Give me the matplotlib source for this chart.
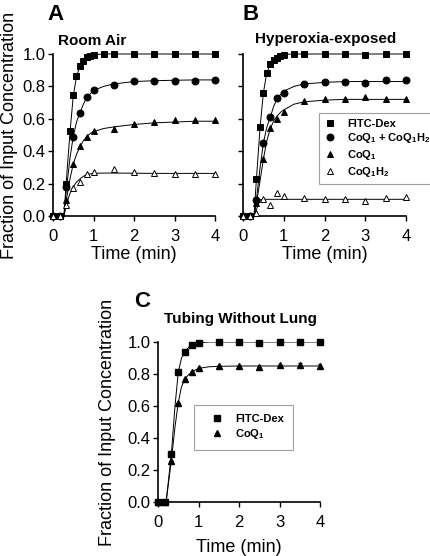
import matplotlib
matplotlib.use("Agg")
import matplotlib.pyplot as plt
import numpy as np

plt.rcParams['font.family'] = ['Liberation Sans', 'DejaVu Sans']
plt.rcParams['mathtext.fontset'] = 'custom'
plt.rcParams['mathtext.rm'] = 'Liberation Sans:bold'
plt.rcParams['mathtext.it'] = 'Liberation Sans:bold'
plt.rcParams['mathtext.bf'] = 'Liberation Sans:bold'

# --- data (time in min, fraction of input) ---
# panel A, room air
tA_dex = [0, 0.17, 0.33, 0.42, 0.5, 0.58, 0.67, 0.75, 0.83, 0.92, 1.0, 1.25, 1.5, 2, 2.5, 3, 3.5, 4]
A_dex = [0, 0, 0.20, 0.525, 0.75, 0.866, 0.924, 0.959, 0.979, 0.99, 0.996, 1.0, 1.0, 1.0, 1.0, 1.0, 1.0, 1.0]
tA = [0, 0.17, 0.33, 0.5, 0.67, 0.83, 1.0, 1.5, 2, 2.5, 3, 3.5, 4]
A_total = [0, 0, 0.18, 0.49, 0.635, 0.735, 0.775, 0.81, 0.835, 0.835, 0.835, 0.835, 0.84]
A_coq1 = [0, 0, 0.10, 0.32, 0.43, 0.49, 0.525, 0.54, 0.57, 0.58, 0.59, 0.59, 0.59]
A_coq1h2 = [0, 0, 0.07, 0.175, 0.21, 0.26, 0.27, 0.29, 0.27, 0.265, 0.26, 0.26, 0.26]

# panel B, hyperoxia-exposed
tB_dex = [0, 0.17, 0.33, 0.42, 0.5, 0.58, 0.67, 0.75, 0.83, 0.92, 1.0, 1.25, 1.5, 2, 2.5, 3, 3.5, 4]
B_dex = [0, 0, 0.23, 0.55, 0.76, 0.88, 0.94, 0.96, 0.975, 0.99, 0.995, 1.0, 1.0, 1.0, 1.0, 0.996, 1.0, 1.0]
tB = [0, 0.17, 0.33, 0.5, 0.67, 0.83, 1.0, 1.5, 2, 2.5, 3, 3.5, 4]
B_total = [0, 0, 0.10, 0.45, 0.61, 0.73, 0.76, 0.815, 0.825, 0.83, 0.82, 0.84, 0.84]
B_coq1 = [0, 0, 0.08, 0.35, 0.545, 0.60, 0.64, 0.71, 0.72, 0.72, 0.735, 0.72, 0.725]
B_coq1h2 = [0, 0, 0.02, 0.105, 0.07, 0.14, 0.125, 0.11, 0.105, 0.105, 0.09, 0.11, 0.12]

# panel C, tubing without lung
tC = [0, 0.17, 0.33, 0.5, 0.67, 0.83, 1.0, 1.5, 2, 2.5, 3, 3.5, 4]
C_dex = [0, 0, 0.30, 0.815, 0.94, 0.98, 0.995, 1.0, 1.0, 0.995, 1.0, 1.0, 1.0]
C_coq1 = [0, 0, 0.256, 0.62, 0.77, 0.81, 0.835, 0.848, 0.852, 0.846, 0.856, 0.856, 0.852]
C_coq1_err = [0, 0, 0, 0, 0, 0, 0, 0, 0, 0, 0, 0.012, 0.012]

# fitted curves
t_fit = [0, 0.27, 0.33, 0.42, 0.5, 0.58, 0.67, 0.75, 0.83, 0.92, 1.0, 1.25, 1.5, 2, 2.5, 3, 3.5, 4]
A_dex_fit = [0, 0, 0.22, 0.52, 0.74, 0.86, 0.93, 0.965, 0.98, 0.99, 0.995, 1.0, 1.0, 1.0, 1.0, 1.0, 1.0, 1.0]
A_total_fit = [0, 0, 0.16, 0.36, 0.49, 0.58, 0.64, 0.69, 0.73, 0.755, 0.775, 0.80, 0.815, 0.83, 0.835, 0.838, 0.84, 0.84]
A_coq1_fit = [0, 0, 0.10, 0.23, 0.32, 0.38, 0.43, 0.465, 0.49, 0.51, 0.52, 0.54, 0.55, 0.565, 0.575, 0.58, 0.585, 0.585]
A_coq1h2_fit = [0, 0, 0.07, 0.14, 0.18, 0.21, 0.23, 0.245, 0.255, 0.26, 0.263, 0.265, 0.265, 0.264, 0.263, 0.263, 0.263, 0.263]
B_dex_fit = [0, 0, 0.23, 0.55, 0.76, 0.88, 0.94, 0.97, 0.985, 0.993, 0.997, 1.0, 1.0, 1.0, 1.0, 1.0, 1.0, 1.0]
B_total_fit = [0, 0, 0.10, 0.30, 0.45, 0.545, 0.61, 0.675, 0.72, 0.75, 0.77, 0.80, 0.815, 0.825, 0.83, 0.83, 0.83, 0.83]
B_coq1_fit = [0, 0, 0.08, 0.22, 0.35, 0.46, 0.54, 0.585, 0.615, 0.64, 0.655, 0.69, 0.705, 0.715, 0.72, 0.72, 0.72, 0.72]
B_coq1h2_fit = [0, 0, 0.04, 0.10, 0.103, 0.103, 0.103, 0.103, 0.103, 0.103, 0.103, 0.103, 0.103, 0.103, 0.103, 0.103, 0.103, 0.103]
tC_fit = [0, 0.2, 0.33, 0.42, 0.5, 0.58, 0.67, 0.75, 0.83, 0.92, 1.0, 1.25, 1.5, 2, 2.5, 3, 3.5, 4]
C_dex_fit = [0, 0, 0.30, 0.60, 0.81, 0.90, 0.94, 0.965, 0.98, 0.99, 0.995, 1.0, 1.0, 1.0, 1.0, 1.0, 1.0, 1.0]
C_coq1_fit = [0, 0, 0.26, 0.47, 0.62, 0.72, 0.77, 0.795, 0.81, 0.825, 0.835, 0.845, 0.848, 0.85, 0.85, 0.85, 0.85, 0.85]

labels = ['FITC-Dex', 'CoQ$_1$ + CoQ$_1$H$_2$', 'CoQ$_1$', 'CoQ$_1$H$_2$']

W, H = 430, 556
fig = plt.figure(figsize=(W / 100, H / 100), dpi=100)


def px(x, y):
    return x / W, 1 - y / H


def setup(ax, xlabelpad):
    ax.set_xlim(0, 4)
    ax.set_ylim(0, 1.0)
    ax.spines['top'].set_visible(False)
    ax.spines['right'].set_visible(False)
    ax.spines['left'].set_linewidth(1.2)
    ax.spines['bottom'].set_linewidth(1.2)
    ax.set_xticks([0, 1, 2, 3, 4])
    ax.set_yticks([0, 0.2, 0.4, 0.6, 0.8, 1.0])
    ax.set_yticklabels(['0.0', '0.2', '0.4', '0.6', '0.8', '1.0'])
    ax.tick_params(direction='out', length=3.5, width=1, labelsize=12, pad=2)
    ax.tick_params(axis='x', pad=6)
    ax.set_xlabel('Time (min)', fontsize=13, labelpad=xlabelpad)


def series(ax, t, y, tf, yf, marker, ms, mfc, label):
    ax.plot(tf, yf, '-', color='black', lw=0.7, clip_on=False)
    ax.plot(t, y, linestyle='none', marker=marker, ms=ms, mfc=mfc, mec='black',
            mew=0.7, clip_on=False, zorder=3, label=label)


# panel A
axA = fig.add_axes([53 / W, 1 - 216 / H, 162 / W, 162 / H])
setup(axA, 1)
series(axA, tA_dex, A_dex, t_fit, A_dex_fit, 's', 4.3, 'black', labels[0])
series(axA, tA, A_total, t_fit, A_total_fit, 'o', 5, 'black', labels[1])
series(axA, tA, A_coq1, t_fit, A_coq1_fit, '^', 4.5, 'black', labels[2])
series(axA, tA, A_coq1h2, t_fit, A_coq1h2_fit, '^', 4.5, 'white', labels[3])

# panel B
axB = fig.add_axes([243 / W, 1 - 216 / H, 163 / W, 162 / H])
setup(axB, 1)
axB.set_yticklabels([])
series(axB, tB_dex, B_dex, t_fit, B_dex_fit, 's', 4.3, 'black', labels[0])
series(axB, tB, B_total, t_fit, B_total_fit, 'o', 5, 'black', labels[1])
series(axB, tB, B_coq1, t_fit, B_coq1_fit, '^', 4.5, 'black', labels[2])
series(axB, tB, B_coq1h2, t_fit, B_coq1h2_fit, '^', 4.5, 'white', labels[3])
legB = axB.legend(loc='upper left', bbox_to_anchor=(px(319, 113)), bbox_transform=fig.transFigure,
                  frameon=True, fancybox=False, edgecolor='#888888', borderpad=0.5,
                  handlelength=1.0, handletextpad=1.0, labelspacing=0.25,
                  prop={'weight': 'bold', 'size': 8}, borderaxespad=0)
legB.get_frame().set_linewidth(0.8)

# panel C
axC = fig.add_axes([158 / W, 1 - 502 / H, 162 / W, 160 / H])
setup(axC, 6)
axC.plot(tC_fit, C_dex_fit, '-', color='black', lw=0.7)
axC.plot(tC_fit, C_coq1_fit, '-', color='black', lw=0.7)
axC.errorbar(tC, C_coq1, yerr=C_coq1_err, fmt='none', ecolor='black', elinewidth=0.6, capsize=1.5)
axC.plot(tC, C_dex, 's', ms=4.3, color='black', clip_on=False, zorder=3, label=labels[0])
axC.plot(tC, C_coq1, '^', ms=4.5, color='black', clip_on=False, zorder=3, label=labels[2])
legC = axC.legend(loc='upper left', bbox_to_anchor=(px(194, 405)), bbox_transform=fig.transFigure,
                  frameon=True, fancybox=False, edgecolor='#888888', borderpad=0.8,
                  handlelength=2.6, handletextpad=0.3, labelspacing=0.3,
                  prop={'weight': 'bold', 'size': 8}, borderaxespad=0)
legC.get_frame().set_linewidth(0.8)

# panel letters, titles, y labels
fig.text(*px(47, 20), 'A', fontsize=16, fontweight='bold')
fig.text(*px(243, 20), 'B', fontsize=16, fontweight='bold')
fig.text(*px(134, 307), 'C', fontsize=16, fontweight='bold')
fig.text(*px(58, 45), 'Room Air', fontsize=11, fontweight='bold')
fig.text(*px(326, 43), 'Hyperoxia-exposed', fontsize=11, fontweight='bold', ha='center')
fig.text(*px(240, 323), 'Tubing Without Lung', fontsize=11, fontweight='bold', ha='center')
fig.text(*px(10, 135), 'Fraction of Input Concentration', fontsize=13, rotation=90,
         ha='center', va='center')
fig.text(*px(108, 422), 'Fraction of Input Concentration', fontsize=13, rotation=90,
         ha='center', va='center')

fig.savefig('out.png', dpi=100)
